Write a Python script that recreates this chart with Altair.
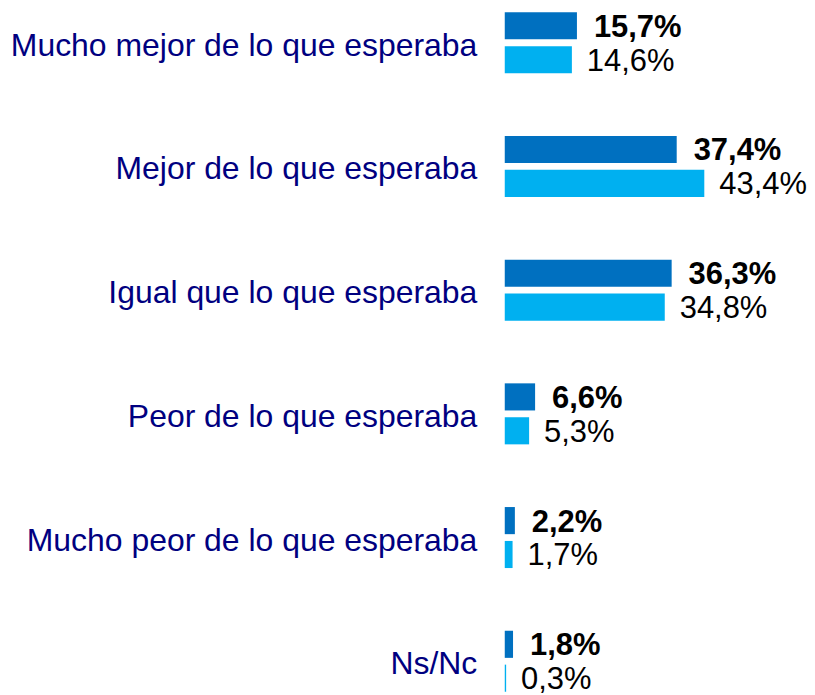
import altair as alt
import pandas as pd

categories = [
    "Mucho mejor de lo que esperaba",
    "Mejor de lo que esperaba",
    "Igual que lo que esperaba",
    "Peor de lo que esperaba",
    "Mucho peor de lo que esperaba",
    "Ns/Nc",
]
serie_a = [15.7, 37.4, 36.3, 6.6, 2.2, 1.8]
serie_b = [14.6, 43.4, 34.8, 5.3, 1.7, 0.3]
series_names = ["A", "B"]
colors = ["#0070C0", "#00B0F0"]

rows = []
for c, a, b in zip(categories, serie_a, serie_b):
    rows.append({"cat": c, "serie": series_names[0], "v": a})
    rows.append({"cat": c, "serie": series_names[1], "v": b})
df = pd.DataFrame(rows)

FONT = "Liberation Sans, Arial, sans-serif"

y_enc = alt.Y(
    "cat:N",
    sort=categories,
    scale=alt.Scale(paddingInner=0.452, paddingOuter=0),
    axis=alt.Axis(
        title=None, ticks=False, tickSize=0, domain=False, labelFontSize=32,
        labelColor="#000080", labelFont=FONT, labelLimit=1000, labelPadding=28,
        labelOffset=3,
    ),
)
yoff = alt.YOffset(
    "serie:N", sort=series_names,
    scale=alt.Scale(paddingInner=0.2, paddingOuter=0.1),
)
xscale = alt.Scale(domain=[0, 49.9], nice=False)
x_enc = alt.X("v:Q", scale=xscale, axis=None)

base = alt.Chart(df).encode(y=y_enc, yOffset=yoff)

bars = base.mark_bar().encode(
    x=x_enc,
    color=alt.Color("serie:N", scale=alt.Scale(domain=series_names, range=colors), legend=None),
)

labels = base.transform_calculate(
    lab="replace(format(datum.v, '.1f'), '.', ',') + '%'",
)

text_a = labels.transform_filter(alt.datum.serie == "A").mark_text(
    align="left", baseline="middle", dx=17, dy=2, fontSize=31, fontWeight="bold",
    font=FONT, color="black",
).encode(x=x_enc, text="lab:N")

text_b = labels.transform_filter(alt.datum.serie == "B").mark_text(
    align="left", baseline="middle", dx=15, dy=2, fontSize=31, fontWeight="normal",
    font=FONT, color="black",
).encode(x=x_enc, text="lab:N")

chart = (
    alt.layer(bars, text_a, text_b)
    .properties(width=230, height=688, padding={"left": 2, "top": 0, "right": 0, "bottom": 0})
    .configure_view(strokeWidth=0)
)

chart.save("out.html", embed_options={"renderer": "svg", "actions": False})
